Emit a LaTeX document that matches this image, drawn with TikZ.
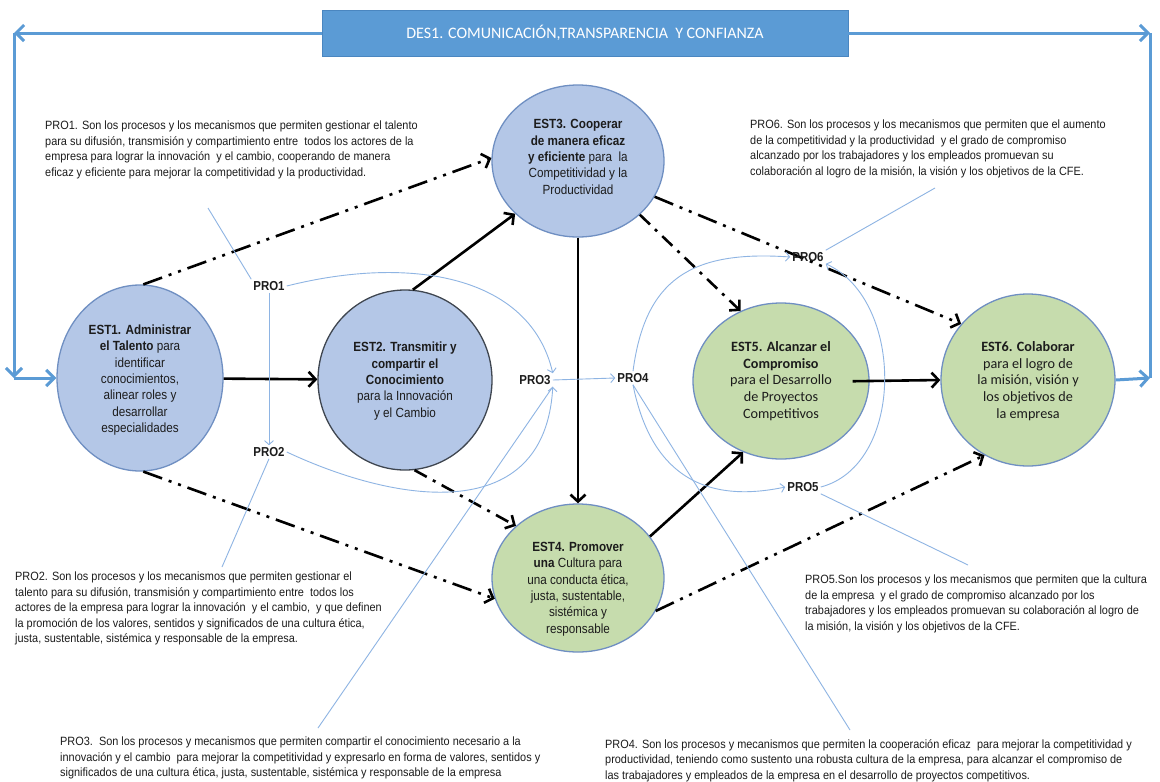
\documentclass[tikz,border=0pt]{standalone}
\usepackage{fontspec}
\setmainfont{Liberation Sans}
\newfontfamily\narrowf{Liberation Sans}[FakeStretch=0.88]
\newfontfamily\parf{Liberation Sans}[FakeStretch=0.91]
\newfontfamily\calf{Carlito}
\usetikzlibrary{arrows.meta,shapes.geometric}
\definecolor{bannerblue}{HTML}{5B9BD5}
\definecolor{bannerline}{HTML}{4A86C0}
\definecolor{linkblue}{HTML}{5B9BD5}
\definecolor{thinblue}{HTML}{8EB4E3}
\definecolor{estblue}{HTML}{B4C7E7}
\definecolor{estgreen}{HTML}{C6DCAD}
\definecolor{edgeblue}{HTML}{6F8FC2}
\definecolor{edgedark}{HTML}{3F4650}
\definecolor{txt}{HTML}{1C1C1C}
\begin{document}
\begin{tikzpicture}[x=1pt,y=-1pt,
  est/.style={ellipse, draw=edgeblue, line width=1.3pt, inner sep=0pt},
  bluest/.style={est, fill=estblue},
  greenest/.style={est, fill=estgreen},
  esttext/.style={align=center, font=\narrowf\fontsize{13.3}{16.4}\selectfont, text=txt, inner sep=0pt},
  greentext/.style={align=center, font=\calf\fontsize{14.2}{16.7}\selectfont, text=txt, inner sep=0pt},
  para/.style={anchor=north west, align=left, font=\parf\fontsize{12}{15.5}\selectfont, text=txt, inner sep=0pt},
  prolabel/.style={font=\narrowf\bfseries\fontsize{13}{15}\selectfont, text=txt, inner sep=2pt},
  solidarrow/.style={line width=2.6pt, -{Straight Barb[length=7pt,width=15pt,line width=2.6pt]}},
  dashdd/.style={line width=2.6pt, dash pattern=on 20pt off 7pt on 3pt off 7pt on 3pt off 7pt, -{Straight Barb[length=7pt,width=15pt,line width=2.6pt]}},
  dashd/.style={line width=2.6pt, dash pattern=on 14pt off 7pt on 3pt off 7pt, -{Straight Barb[length=7pt,width=15pt,line width=2.6pt]}},
  thin/.style={draw=thinblue, line width=0.9pt},
  thinarrow/.style={thin, -{Straight Barb[length=4pt,width=9pt,line width=0.9pt]}},
  bigblue/.style={draw=linkblue, line width=3pt},
  bigend/.style={bigblue, -{Straight Barb[length=8pt,width=16pt,line width=3pt]}}
]
\useasboundingbox (0,0) rectangle (1160,782);
\fill[white] (0,0) rectangle (1160,782);

% banner
\node[rectangle, fill=bannerblue, draw=bannerline, line width=0.8pt, minimum width=526pt, minimum height=46pt, inner sep=0pt,
      text=white, font=\calf\fontsize{16}{18}\selectfont] (des) at (585,33) {DES1. COMUNICACIÓN,TRANSPARENCIA\ \ Y CONFIANZA};

% ellipses
\node[bluest, minimum width=166pt, minimum height=186pt] (est1) at (140,378) {};
\node[bluest, draw=edgedark, minimum width=174pt, minimum height=180pt] (est2) at (405,380) {};
\node[bluest, minimum width=172pt, minimum height=152pt] (est3) at (578,161) {};
\node[greenest, minimum width=172pt, minimum height=148pt] (est4) at (578,578) {};
\node[greenest, minimum width=176pt, minimum height=156pt] (est5) at (781,381) {};
\node[greenest, minimum width=174pt, minimum height=172pt] (est6) at (1028,380) {};

\node[esttext] (est1t) at (140,380) {\textbf{EST1. Administrar}\\\textbf{el Talento} para\\identificar\\conocimientos,\\alinear roles y\\desarrollar\\especialidades};
\node[esttext] (est2t) at (405,381) {\textbf{EST2. Transmitir y}\\\textbf{compartir el}\\\textbf{Conocimiento}\\para la Innovación\\y el Cambio};
\node[esttext] (est3t) at (578,157) {\textbf{EST3. Cooperar}\\\textbf{de manera eficaz}\\\textbf{y eficiente} para\ \ la\\Competitividad y la\\Productividad};
\node[esttext] (est4t) at (578,589) {\textbf{EST4. Promover}\\\textbf{una} Cultura para\\una conducta ética,\\justa, sustentable,\\sistémica y\\responsable};
\node[greentext] (est5t) at (781,381) {\textbf{EST5. Alcanzar el}\\\textbf{Compromiso}\\para el Desarrollo\\de Proyectos\\Competitivos};
\node[greentext] (est6t) at (1028,381) {\textbf{EST6. Colaborar}\\para el logro de\\la misión, visión y\\los objetivos de\\la empresa};

% blue frame connectors
\coordinate (tl) at (14,33);
\coordinate (bl) at (14,378);
\coordinate (tr) at (1150,33);
\coordinate (br) at (1150,378);
\draw[bigend] (des.west) -- (tl);
\draw[bigend] (tl) -- (bl);
\draw[bigend] (bl) -- (est1.west);
\draw[bigend] (des.east) -- (tr);
\draw[bigblue] (tr) -- (br);
\draw[bigend] (est6.east) -- (br);

% black connectors
\draw[solidarrow] (est1) -- (est2);
\draw[solidarrow] (est2.85) -- (est3.220);
\draw[solidarrow] (est3.south) -- (est4.north);
\draw[solidarrow] (est4.30) -- (est5.242);
\draw[solidarrow, shorten <=-17pt] (est5.east) -- (est6.west);
\draw[dashdd] (est1.88) -- (est3.178);
\draw[dashdd] (est1.272) -- (est4.194);
\draw[dashd] (est2.276) -- (est4.140);
\draw[dashd] (est3.319) -- (est5.120);
\draw[dashdd] (est3.335) -- (est6.140);
\draw[dashdd] (est4.337) -- (est6.240);

% process labels
\node[prolabel] (pro1) at (269,286) {PRO1};
\node[prolabel] (pro2) at (269,452) {PRO2};
\node[prolabel] (pro3) at (535,380) {PRO3};
\node[prolabel] (pro4) at (633,378) {PRO4};
\node[prolabel] (pro5) at (803,487) {PRO5};
\node[prolabel] (pro6) at (808,257) {PRO6};

% thin blue connectors
\draw[thinarrow] (pro1.south) -- (pro2.north);
\draw[thinarrow] (pro1.east) .. controls (410,255) and (530,275) .. (pro3.north east);
\draw[thinarrow] (pro2.east) .. controls (400,505) and (545,525) .. (pro3.south east);
\draw[thinarrow] (pro3.east) -- (pro4.west);
\draw[thinarrow] (pro4.north) .. controls (645,280) and (690,250) .. (pro6.west);
\draw[thinarrow] (pro4.south) .. controls (650,470) and (700,505) .. (pro5.west);
\draw[thinarrow] (pro5.east) .. controls (905,465) and (905,300) .. (pro6.south east);

% callout lines
\coordinate (c1) at (208,208);
\coordinate (c2) at (222,567);
\coordinate (c3) at (318,728);
\coordinate (c4) at (850,730);
\coordinate (c5) at (968,565);
\coordinate (c6) at (935,188);
\draw[thin] (c1) -- (pro1.north west);
\draw[thin] (pro2.south) -- (c2);
\draw[thin] (c3) -- (pro3.south east);
\draw[thin] (pro4.south) -- (c4);
\draw[thin] (pro5.south east) -- (c5);
\draw[thin] (pro6.north east) -- (c6);

% descriptive texts
\node[para] (t1) at (45,121) {PRO1. Son los procesos y los mecanismos que permiten gestionar el talento\\para su difusión, transmisión y compartimiento entre\ \ todos los actores de la\\empresa para lograr la innovación\ \ y el cambio, cooperando de manera\\eficaz y eficiente para mejorar la competitividad y la productividad.};
\node[para] (t6) at (750,120) {PRO6. Son los procesos y los mecanismos que permiten que el aumento\\de la competitividad y la productividad\ \ y el grado de compromiso\\alcanzado por los trabajadores y los empleados promuevan su\\colaboración al logro de la misión, la visión y los objetivos de la CFE.};
\node[para] (t2) at (15,572) {PRO2. Son los procesos y los mecanismos que permiten gestionar el\\talento para su difusión, transmisión y compartimiento entre\ \ todos los\\actores de la empresa para lograr la innovación\ \ y el cambio,\ \ y que definen\\la promoción de los valores, sentidos y significados de una cultura ética,\\justa, sustentable, sistémica y responsable de la empresa.};
\node[para] (t5) at (805,575) {PRO5.Son los procesos y los mecanismos que permiten que la cultura\\de la empresa\ \ y el grado de compromiso alcanzado por los\\trabajadores y los empleados promuevan su colaboración al logro de\\la misión, la visión y los objetivos de la CFE.};
\node[para] (t3) at (60,737) {PRO3.\ \ Son los procesos y mecanismos que permiten compartir el conocimiento necesario a la\\innovación y el cambio\ \ para mejorar la competitividad y expresarlo en forma de valores, sentidos y\\significados de una cultura ética, justa, sustentable, sistémica y responsable de la empresa};
\node[para] (t4) at (605,739) {PRO4. Son los procesos y mecanismos que permiten la cooperación eficaz\ \ para mejorar la competitividad y\\productividad, teniendo como sustento una robusta cultura de la empresa, para alcanzar el compromiso de\\las trabajadores y empleados de la empresa en el desarrollo de proyectos competitivos.};
\end{tikzpicture}
\end{document}
